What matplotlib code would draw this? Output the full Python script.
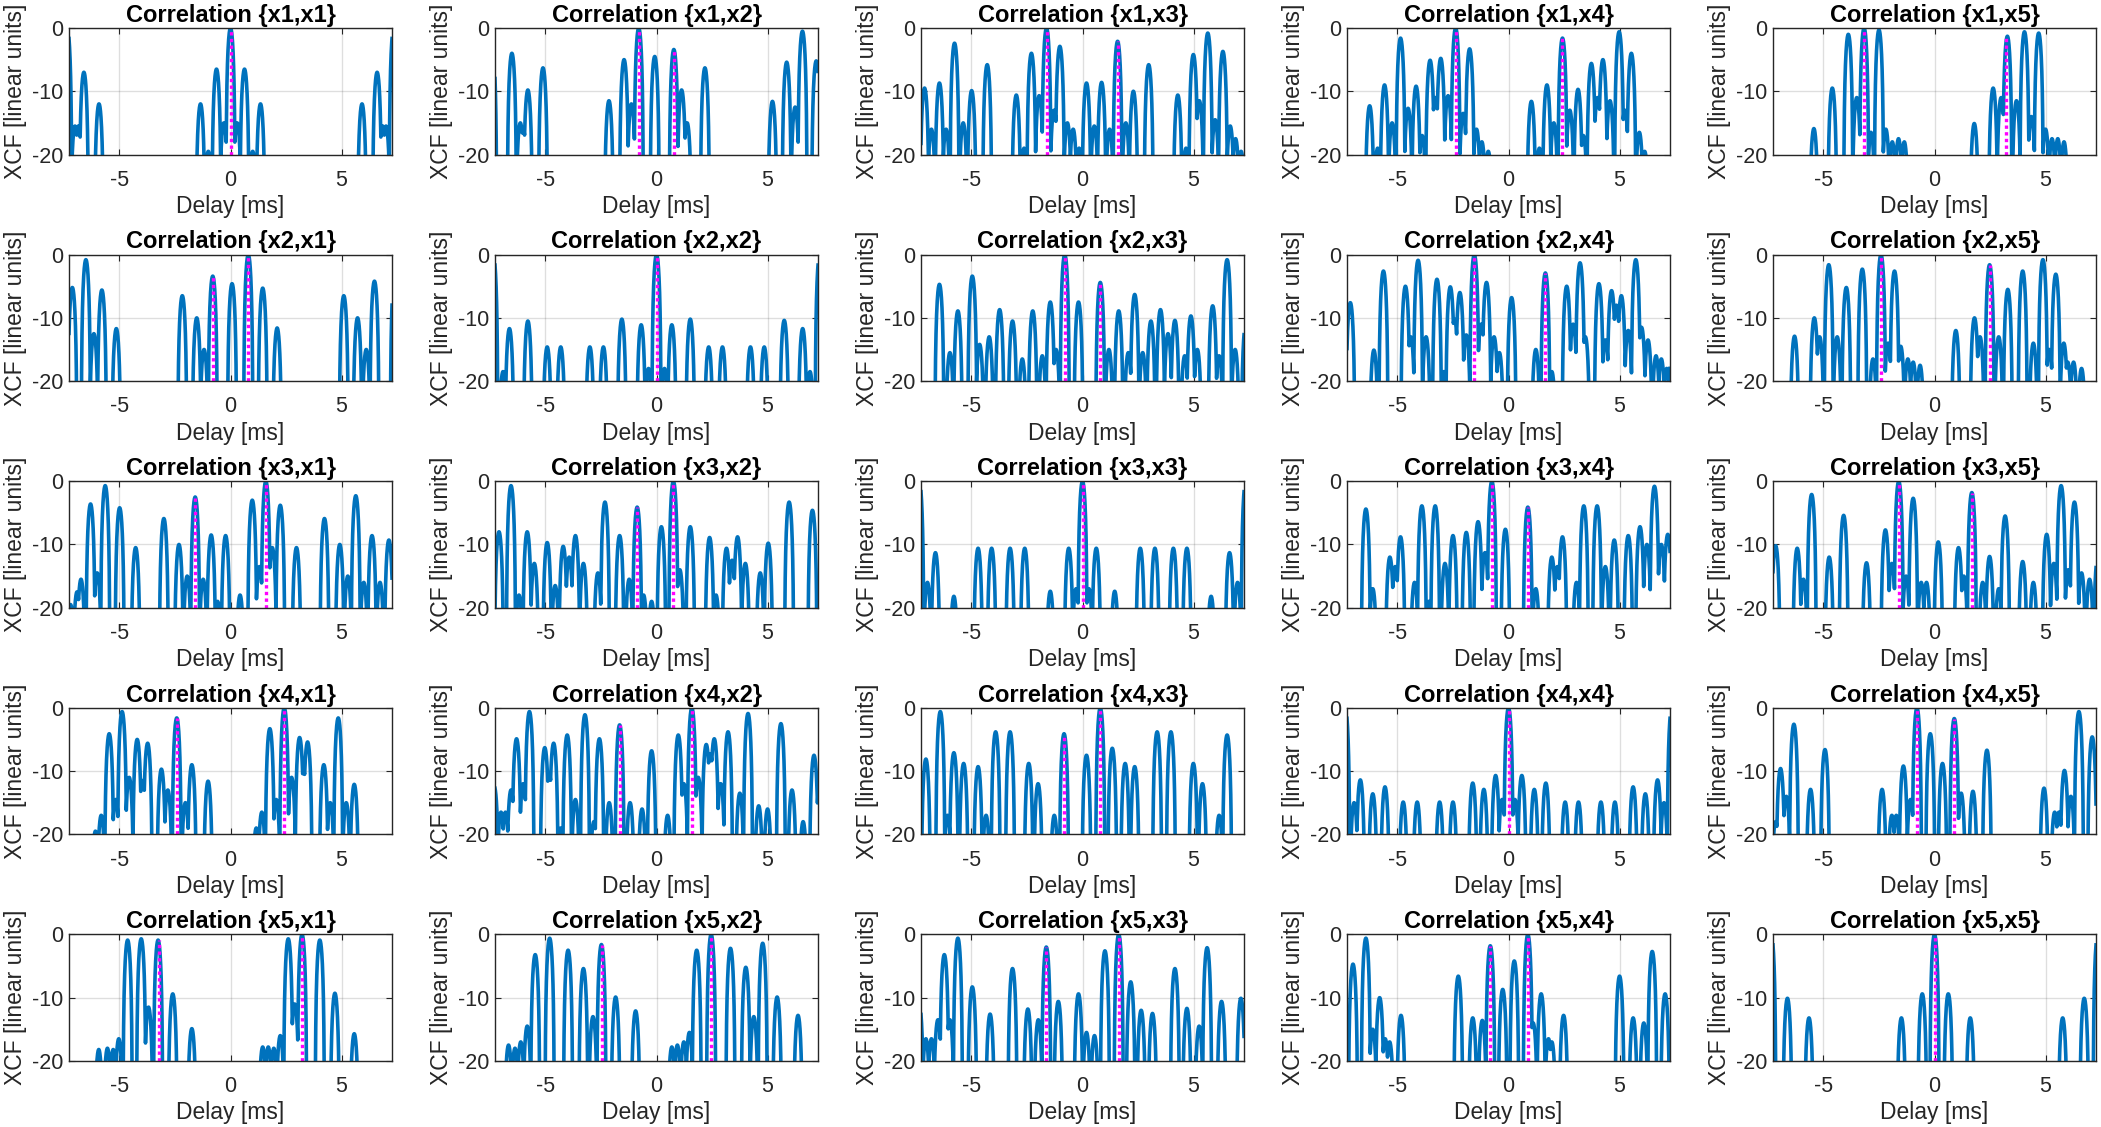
import matplotlib
matplotlib.use("Agg")
import matplotlib.pyplot as plt
import numpy as np

plt.rcParams['font.family'] = ['Liberation Sans', 'DejaVu Sans']
plt.rcParams['axes.unicode_minus'] = False

# cross-correlation lobes: (delay in ms, peak level in dB)
lobes_11 = [(-7.35, 0), (-7.0, -15.5), (-6.85, -15.5), (-6.6, -7), (-5.92, -12), (-1.35, -12), (-1.0, -19.5),
            (-0.63, -6.5), (-0.3, -15), (0, 0), (0.3, -15), (0.63, -6.5), (1.0, -19.5), (1.35, -12),
            (5.92, -12), (6.6, -7), (6.85, -15.5), (7.0, -15.5), (7.35, 0)]
lobes_12 = [(-7.4, -3), (-6.51, -4.0), (-6.13, -15), (-6.0, -16), (-5.79, -9.8), (-5.11, -6.3), (-2.14, -11.5),
            (-1.46, -5.0), (-1.13, -12), (-0.80, 0), (-0.08, -4.5), (0.78, -3.4), (1.13, -9.8), (1.38, -15),
            (2.18, -6.3), (5.22, -11.6), (5.86, -5.4), (6.24, -12.5), (6.57, -0.5), (7.19, -5.2)]
lobes_13 = [(-7.11, -9.5), (-6.8, -16), (-6.44, -8.7), (-6.14, -16), (-5.76, -2.4), (-5.37, -15), (-4.99, -9.9),
            (-4.29, -5.8), (-2.98, -10.6), (-2.63, -19), (-2.30, -4.0), (-1.95, -10.7), (-1.62, 0), (-1.28, -13),
            (-1.02, -2.9), (-0.68, -15), (-0.42, -16), (-0.15, -19), (0.18, -8.7), (0.53, -15.5), (0.86, -8.6),
            (1.22, -16), (1.58, -2.1), (1.95, -15), (2.29, -10), (2.98, -5.8), (4.29, -10.6), (4.66, -19),
            (4.99, -4.2), (5.26, -11.5), (5.64, -0.8), (5.97, -14.5), (6.32, -3.7), (6.65, -15.5), (6.89, -17.5),
            (7.14, -19.5)]
lobes_14 = [(-6.25, -12.3), (-5.89, -19), (-5.58, -9.0), (-5.24, -15), (-4.86, -1.6), (-4.52, -12.7), (-4.16, -9.2),
            (-3.89, -17), (-3.53, -5.1), (-3.29, -11), (-3.05, -4.8), (-2.72, -10.7), (-2.38, 0), (-2.04, -13.5),
            (-1.75, -3.3), (-1.44, -16), (-1.2, -18), (-0.91, -19.5), (1.03, -11.6), (1.39, -19), (1.73, -9.0),
            (2.04, -15), (2.43, -1.6), (2.76, -13), (3.13, -9.7), (3.37, -17), (3.73, -5.6), (4.01, -11),
            (4.25, -5.0), (4.57, -11.5), (4.98, -0.6), (5.24, -13), (5.53, -4.0), (5.89, -16.5), (6.13, -19.5)]
lobes_15 = [(-5.43, -15.9), (-4.60, -9.5), (-3.88, -1.0), (-3.5, -11), (-3.17, 0), (-2.86, -16.5), (-2.5, -0.3),
            (-2.19, -16), (-1.90, -18), (-1.62, -17.5), (-1.36, -18), (1.79, -15.1), (2.64, -9.5), (3.0, -11),
            (3.28, -1.3), (3.69, -11.5), (4.05, -0.6), (4.36, -14), (4.69, -0.8), (5.0, -16), (5.29, -17.5),
            (5.55, -17.5), (5.83, -18)]
lobes_21 = [(-7.12, -5.2), (-6.51, -0.8), (-6.15, -12.5), (-5.79, -5.6), (-5.14, -11.7), (-2.17, -6.5),
            (-1.52, -10.0), (-1.19, -15), (-0.80, -3.4), (0.07, -4.6), (0.80, 0), (1.45, -5.3), (2.10, -11.6),
            (5.10, -6.5), (5.72, -10.0), (6.11, -15), (6.48, -4.2), (7.4, -3)]
lobes_22 = [(-7.35, 0), (-6.91, -18.5), (-6.62, -11.7), (-5.79, -10.5), (-4.92, -14.6), (-4.31, -14.6),
            (-3.0, -14.6), (-2.39, -14.6), (-1.56, -10.2), (-0.69, -11.1), (-0.36, -18), (0, 0), (0.36, -18),
            (0.69, -11.1), (1.52, -10.2), (2.35, -14.6), (2.97, -14.6), (4.23, -14.6), (4.85, -14.6),
            (5.75, -10.4), (6.58, -11.7), (6.91, -18.5), (7.35, 0)]
lobes_23 = [(-6.44, -4.7), (-5.97, -15.5), (-5.61, -8.9), (-4.96, -3.4), (-4.63, -14.2), (-4.2, -13), (-3.73, -8.7),
            (-3.15, -10.5), (-2.71, -16.5), (-2.24, -8.9), (-1.81, -16), (-1.45, -7.5), (-1.19, -15), (-0.80, 0),
            (-0.18, -7.5), (0.80, -4.4), (1.19, -15), (1.63, -8.9), (2.06, -15.5), (2.35, -6.3), (2.71, -15.5),
            (3.08, -10.5), (3.51, -8.7), (3.85, -12.5), (4.16, -10.4), (4.6, -16), (4.88, -9.7), (5.17, -15),
            (5.86, -8.1), (6.15, -16), (6.51, -0.8), (6.87, -15), (7.35, -11)]
lobes_24 = [(-7.12, -7.6), (-6.06, -15.1), (-5.63, -2.6), (-4.64, -5.0), (-4.40, -13), (-4.07, -0.9), (-3.71, -13),
            (-3.22, -3.9), (-2.91, -18.5), (-2.62, -5.1), (-2.43, -10.2), (-2.19, -6.0), (-1.9, -12.7), (-1.54, 0),
            (-1.23, -11), (-0.99, -4.4), (-0.65, -13), (-0.41, -15.5), (0.14, -6.8), (1.23, -15), (1.66, -2.9),
            (1.95, -18.5), (2.62, -5.0), (2.91, -11), (3.22, -1.3), (3.46, -13), (4.07, -4.6), (4.36, -13.5),
            (4.64, -5.7), (4.86, -8), (5.08, -6.5), (5.39, -12), (5.73, -0.8), (5.99, -11.5), (6.28, -13.5),
            (6.64, -16), (6.88, -16.5), (7.12, -18), (7.4, -13)]
lobes_25 = [(-6.3, -12.9), (-5.41, -10.0), (-5.17, -13), (-4.76, -1.6), (-4.38, -13), (-3.97, -5.2), (-3.25, -2.3),
            (-2.77, -16.5), (-2.41, 0), (-2.09, -14), (-1.8, -2.6), (-1.52, -14.5), (-1.2, -16.5), (-0.96, -17),
            (-0.65, -17.5), (0.96, -12.0), (1.80, -10.0), (2.05, -13), (2.48, -1.6), (2.89, -13), (3.30, -5.5),
            (3.97, -2.6), (4.45, -14), (4.88, -0.8), (5.17, -15), (5.46, -3.1), (5.82, -14), (6.0, -17),
            (6.26, -17), (6.62, -18)]
lobes_31 = [(-7.2, -19.5), (-6.91, -17.5), (-6.73, -15.5), (-6.30, -3.6), (-6.0, -14.5), (-5.64, -0.7),
            (-4.99, -4.2), (-4.27, -10.5), (-3.0, -5.9), (-2.32, -10.0), (-1.95, -15), (-1.59, -2.5), (-1.23, -15.5),
            (-0.87, -8.5), (-0.58, -19), (-0.22, -8.6), (0.43, -18), (0.98, -3.0), (1.30, -13.5), (1.59, 0),
            (1.88, -10.5), (2.24, -3.8), (2.97, -10.5), (4.23, -5.9), (4.92, -10.0), (5.28, -15), (5.64, -2.3),
            (6.0, -16), (6.37, -8.6), (6.73, -16), (7.13, -9.3)]
lobes_32 = [(-7.09, -8.0), (-6.55, -0.7), (-6.19, -18), (-5.82, -8.0), (-5.5, -13), (-4.92, -9.7), (-4.56, -16.5),
            (-4.20, -10.3), (-3.93, -12), (-3.65, -8.6), (-3.29, -13), (-2.64, -14.5), (-2.32, -3.3), (-1.66, -8.6),
            (-1.23, -15.5), (-0.87, -4.1), (-0.58, -18), (-0.22, -19), (0.22, -7.2), (0.76, 0), (1.05, -14),
            (1.52, -7.2), (2.39, -8.9), (2.68, -18), (3.15, -10.6), (3.40, -12.5), (3.65, -8.8), (4.0, -13),
            (4.67, -14.5), (5.03, -9.8), (5.97, -3.3), (7.02, -4.6)]
lobes_33 = [(-7.35, 0), (-6.98, -16), (-6.62, -11.3), (-5.79, -18.2), (-4.70, -10.6), (-4.09, -10.6),
            (-3.26, -10.6), (-2.60, -10.6), (-1.45, -17.4), (-0.62, -10.6), (-0.29, -17), (0, 0), (0.29, -17),
            (0.62, -10.6), (1.45, -17.4), (2.60, -10.6), (3.26, -10.6), (4.09, -10.6), (4.70, -10.6),
            (5.79, -18.2), (6.62, -11.3), (6.98, -16), (7.35, 0)]
lobes_34 = [(-6.42, -4.4), (-6.11, -17), (-5.34, -12.0), (-5.1, -13.5), (-4.86, -8.8), (-4.23, -16), (-3.90, -3.9),
            (-3.59, -19), (-3.30, -3.9), (-2.86, -13), (-2.50, -8.6), (-1.90, -8.1), (-1.37, -6.4), (-1.06, -11.3),
            (-0.75, 0), (-0.14, -7.6), (0.87, -4.1), (1.23, -17), (1.95, -12.0), (2.2, -13.5), (2.43, -8.8),
            (3.06, -16), (3.39, -3.9), (3.99, -3.9), (4.36, -13.5), (4.76, -9.3), (5.39, -8.6), (5.92, -7.2),
            (6.23, -10), (6.57, -0.8), (6.88, -10), (7.17, -8.4)]
lobes_35 = [(-7.15, -10.2), (-6.18, -10.6), (-5.9, -15.5), (-5.53, -2.1), (-4.74, -12.0), (-4.09, -5.4),
            (-3.06, -12.9), (-2.21, -7.7), (-1.92, -13), (-1.61, 0), (-1.28, -15), (-0.96, -2.7), (-0.6, -16),
            (-0.36, -16), (0.17, -9.6), (1.08, -10.5), (1.32, -15), (1.68, -1.8), (2.17, -16), (2.48, -11.9),
            (2.89, -17), (3.18, -5.5), (3.97, -12.7), (4.45, -16), (5.05, -8.4), (5.37, -13), (5.70, -0.7),
            (6.02, -14), (6.30, -3.3), (6.62, -14.5), (6.98, -15.5), (7.35, -12)]
lobes_41 = [(-6.08, -19.5), (-5.82, -17), (-5.46, -4.1), (-5.17, -14.5), (-4.88, -0.6), (-4.56, -11), (-4.20, -5.0),
            (-3.96, -11.5), (-3.73, -5.6), (-3.11, -9.7), (-2.82, -13), (-2.42, -1.6), (-2.03, -15), (-1.74, -9.0),
            (-1.01, -11.6), (1.16, -19), (1.41, -16.5), (1.77, -3.3), (2.06, -14.5), (2.42, 0), (2.75, -11),
            (3.11, -4.7), (3.29, -10), (3.47, -5.4), (4.20, -9.0), (4.49, -15), (4.85, -1.6), (5.21, -15),
            (5.57, -12.1)]
lobes_42 = [(-7.3, -12.5), (-7.0, -16.5), (-6.8, -16.5), (-6.55, -13), (-6.30, -4.9), (-6.0, -12), (-5.72, -0.6),
            (-5.03, -6.3), (-4.83, -10.5), (-4.63, -5.6), (-4.31, -19), (-4.02, -4.3), (-3.65, -14.5), (-3.22, -1.1),
            (-2.82, -18), (-2.57, -4.9), (-2.13, -15), (-1.66, -2.7), (-1.19, -15), (-0.65, -16), (-0.22, -6.8),
            (0.5, -17), (0.98, -4.3), (1.23, -12), (1.59, 0), (1.88, -11), (2.24, -5.8), (2.42, -7.3), (2.60, -4.9),
            (2.89, -12), (3.22, -3.8), (3.75, -13.5), (4.12, -0.9), (4.6, -15.5), (5.0, -16), (5.6, -2.5),
            (6.1, -13), (6.6, -18), (7.09, -7.5), (7.35, -12)]
lobes_43 = [(-7.05, -8.1), (-6.40, -0.6), (-6.08, -17), (-5.79, -7.1), (-5.35, -8.8), (-4.70, -9.3), (-4.34, -17),
            (-3.91, -3.8), (-3.26, -3.8), (-2.42, -8.8), (-2.0, -12), (-1.27, -17), (-0.83, -4.1), (0.18, -7.5),
            (0.80, 0), (1.34, -6.4), (1.92, -8.8), (2.35, -9.3), (3.36, -3.8), (3.98, -3.8), (4.99, -8.8),
            (5.40, -12), (6.15, -17), (6.51, -4.3)]
lobes_44 = [(-7.35, 0), (-6.95, -15), (-6.67, -11.4), (-6.11, -13.6), (-5.56, -12.5), (-4.74, -14.9),
            (-4.11, -14.9), (-3.10, -14.9), (-2.50, -14.9), (-1.61, -11.9), (-1.11, -12.9), (-0.58, -10.7),
            (-0.29, -14.5), (0, 0), (0.29, -14.5), (0.60, -10.7), (1.16, -12.9), (1.68, -11.9), (2.55, -14.9),
            (3.15, -14.9), (4.16, -14.9), (4.79, -14.9), (5.61, -12.5), (6.16, -13.6), (6.71, -11.4), (7.0, -15),
            (7.35, 0)]
lobes_45 = [(-7.15, -18), (-6.93, -9.6), (-6.67, -14), (-6.33, -2.6), (-5.58, -12.9), (-4.93, -6.6), (-2.36, -12.9),
            (-1.92, -17), (-1.72, -17), (-1.40, -9.2), (-1.08, -14.5), (-0.79, 0), (-0.19, -4.1), (0.36, -8.8),
            (0.89, -1.7), (1.20, -13.5), (1.73, -13.2), (2.36, -6.7), (4.93, -12.7), (5.41, -16.5), (5.6, -16.5),
            (5.85, -9.9), (6.14, -14), (6.50, -0.6), (7.1, -4.6)]
lobes_51 = [(-5.93, -18.2), (-5.54, -18), (-5.28, -18.2), (-5.03, -16.5), (-4.63, -0.9), (-4.02, -0.7),
            (-3.69, -11.5), (-3.26, -0.9), (-2.60, -9.4), (-1.74, -14.9), (1.45, -17.8), (1.70, -17.8),
            (1.95, -18), (2.24, -16), (2.60, -0.7), (2.89, -11), (3.22, 0), (4.02, -0.9), (4.70, -9.3),
            (5.57, -15.7)]
lobes_52 = [(-6.66, -17.5), (-6.37, -18), (-6.11, -17), (-5.82, -14.5), (-5.46, -3.2), (-4.81, -0.6), (-3.98, -2.5),
            (-3.29, -5.4), (-2.86, -13), (-2.48, -1.6), (-1.84, -9.9), (-0.94, -12.1), (0.69, -17.8), (0.94, -17.5),
            (1.23, -17), (1.48, -15.5), (1.81, -2.5), (2.46, 0), (3.33, -2.2), (4.02, -5.2), (4.38, -13),
            (4.78, -1.4), (5.43, -9.9), (6.37, -12.8)]
lobes_53 = [(-7.35, -11), (-7.05, -16.5), (-6.8, -16.5), (-6.51, -13.5), (-6.22, -3.2), (-5.97, -13.5),
            (-5.61, -0.6), (-4.96, -8.3), (-4.16, -12.6), (-3.15, -5.4), (-2.46, -11.8), (-1.99, -13.5),
            (-1.63, -2.0), (-1.09, -10.6), (-0.18, -9.4), (0.18, -15.5), (0.54, -16), (1.01, -2.6), (1.63, 0),
            (2.17, -7.5), (2.64, -12), (3.15, -12.5), (4.16, -5.4), (4.70, -11.7), (5.25, -14.5), (5.61, -2.1),
            (6.26, -10.6), (7.13, -10.1)]
lobes_54 = [(-7.00, -4.7), (-6.42, -0.6), (-6.11, -15), (-5.80, -10.0), (-5.55, -16.5), (-5.35, -17),
            (-4.84, -12.8), (-2.26, -6.6), (-1.61, -13.2), (-1.18, -13.6), (-0.82, -1.8), (-0.26, -8.7),
            (0.26, -4.2), (0.87, 0), (1.11, -14), (1.47, -9.4), (1.80, -16.5), (1.95, -17), (2.48, -12.8),
            (5.0, -6.6), (5.61, -13.2), (6.09, -14.0), (6.47, -2.7), (7.05, -9.4), (7.3, -19.5)]
lobes_55 = [(-7.35, 0), (-6.62, -10.1), (-5.65, -13.2), (-1.49, -13.2), (-0.55, -9.4), (0, 0), (0.62, -9.4),
            (1.61, -13.2), (5.77, -13.2), (6.74, -10.1), (7.35, 0)]

# estimated delay markers (magenta): (delay in ms, level in dB)
marks_11 = [(0, 0)]
marks_12 = [(-0.80, 0), (0.78, -3.4)]
marks_13 = [(-1.62, 0), (1.58, -2.1)]
marks_14 = [(-2.38, 0), (2.43, -1.6)]
marks_15 = [(-3.17, 0), (3.22, -1.5)]
marks_21 = [(-0.80, -3.4), (0.80, 0)]
marks_22 = [(0, 0)]
marks_23 = [(-0.80, 0), (0.80, -4.4)]
marks_24 = [(-1.54, 0), (1.66, -2.9)]
marks_25 = [(-2.41, 0), (2.48, -1.6)]
marks_31 = [(-1.59, -2.5), (1.59, 0)]
marks_32 = [(-0.87, -4.1), (0.76, 0)]
marks_33 = [(0, 0)]
marks_34 = [(-0.75, 0), (0.87, -4.1)]
marks_35 = [(-1.61, 0), (1.68, -1.8)]
marks_41 = [(-2.42, -1.6), (2.42, 0)]
marks_42 = [(-1.66, -2.7), (1.59, 0)]
marks_43 = [(-0.83, -4.1), (0.80, 0)]
marks_44 = [(0, 0)]
marks_45 = [(-0.79, 0), (0.89, -1.7)]
marks_51 = [(-3.22, -0.9), (3.22, 0)]
marks_52 = [(-2.46, -1.6), (2.46, 0)]
marks_53 = [(-1.63, -2.0), (1.63, 0)]
marks_54 = [(-0.82, -1.8), (0.87, 0)]
marks_55 = [(0, 0)]

names = ['x1', 'x2', 'x3', 'x4', 'x5']
lobes = {(1, 1): lobes_11, (1, 2): lobes_12, (1, 3): lobes_13, (1, 4): lobes_14, (1, 5): lobes_15,
         (2, 1): lobes_21, (2, 2): lobes_22, (2, 3): lobes_23, (2, 4): lobes_24, (2, 5): lobes_25,
         (3, 1): lobes_31, (3, 2): lobes_32, (3, 3): lobes_33, (3, 4): lobes_34, (3, 5): lobes_35,
         (4, 1): lobes_41, (4, 2): lobes_42, (4, 3): lobes_43, (4, 4): lobes_44, (4, 5): lobes_45,
         (5, 1): lobes_51, (5, 2): lobes_52, (5, 3): lobes_53, (5, 4): lobes_54, (5, 5): lobes_55}
marks = {(1, 1): marks_11, (1, 2): marks_12, (1, 3): marks_13, (1, 4): marks_14, (1, 5): marks_15,
         (2, 1): marks_21, (2, 2): marks_22, (2, 3): marks_23, (2, 4): marks_24, (2, 5): marks_25,
         (3, 1): marks_31, (3, 2): marks_32, (3, 3): marks_33, (3, 4): marks_34, (3, 5): marks_35,
         (4, 1): marks_41, (4, 2): marks_42, (4, 3): marks_43, (4, 4): marks_44, (4, 5): marks_45,
         (5, 1): marks_51, (5, 2): marks_52, (5, 3): marks_53, (5, 4): marks_54, (5, 5): marks_55}

W, H = 2101, 1127
XMAX = 7.27
HW = 0.21   # half width of one lobe, ms
t = np.linspace(-XMAX, XMAX, 4000)


def xcf_curve(lobe_list):
    amp = np.zeros_like(t)
    for c, p in lobe_list:
        u = (t - c) / HW
        a = np.where(np.abs(u) < 1, 10 ** (p / 20) * np.cos(np.pi / 2 * u), 0)
        amp = np.maximum(amp, a)
    return 20 * np.log10(np.maximum(amp, 1e-4))


fig = plt.figure(figsize=(W / 100, H / 100), dpi=100)
grey = '#262626'

for i in range(5):
    for j in range(5):
        left = 69 + 426 * j
        top = 28 + 226.6 * i
        ax = fig.add_axes([left / W, 1 - (top + 126.5) / H, 323 / W, 126.5 / H])
        ax.plot(t, xcf_curve(lobes[(i + 1, j + 1)]), color='#0072BD', lw=2.6)
        for c, p in marks[(i + 1, j + 1)]:
            ax.plot([c, c], [-20, p], color='#FF00FF', lw=2.4, ls=(0, (1, 1)))
        ax.set_xlim(-XMAX, XMAX)
        ax.set_ylim(-20, 0)
        ax.set_xticks([-5, 0, 5])
        ax.set_yticks([-20, -10, 0])
        ax.grid(True, color=grey, alpha=0.15, lw=1)
        ax.set_axisbelow(True)
        ax.tick_params(direction='in', length=4, width=0.8, colors=grey, labelsize=15.5,
                       top=True, right=True)
        ax.tick_params(axis='x', pad=11)
        ax.tick_params(axis='y', pad=4)
        for s in ax.spines.values():
            s.set_color(grey)
            s.set_linewidth(1.0)
        ax.set_title('Correlation {%s,%s}' % (names[i], names[j]), fontsize=17,
                     fontweight='bold', pad=4.5)
        ax.set_xlabel('Delay [ms]', fontsize=16.5, color=grey, labelpad=3)
        ax.set_ylabel('XCF [linear units]', fontsize=16.5, color=grey, labelpad=4)

fig.savefig('out.png', dpi=100)
